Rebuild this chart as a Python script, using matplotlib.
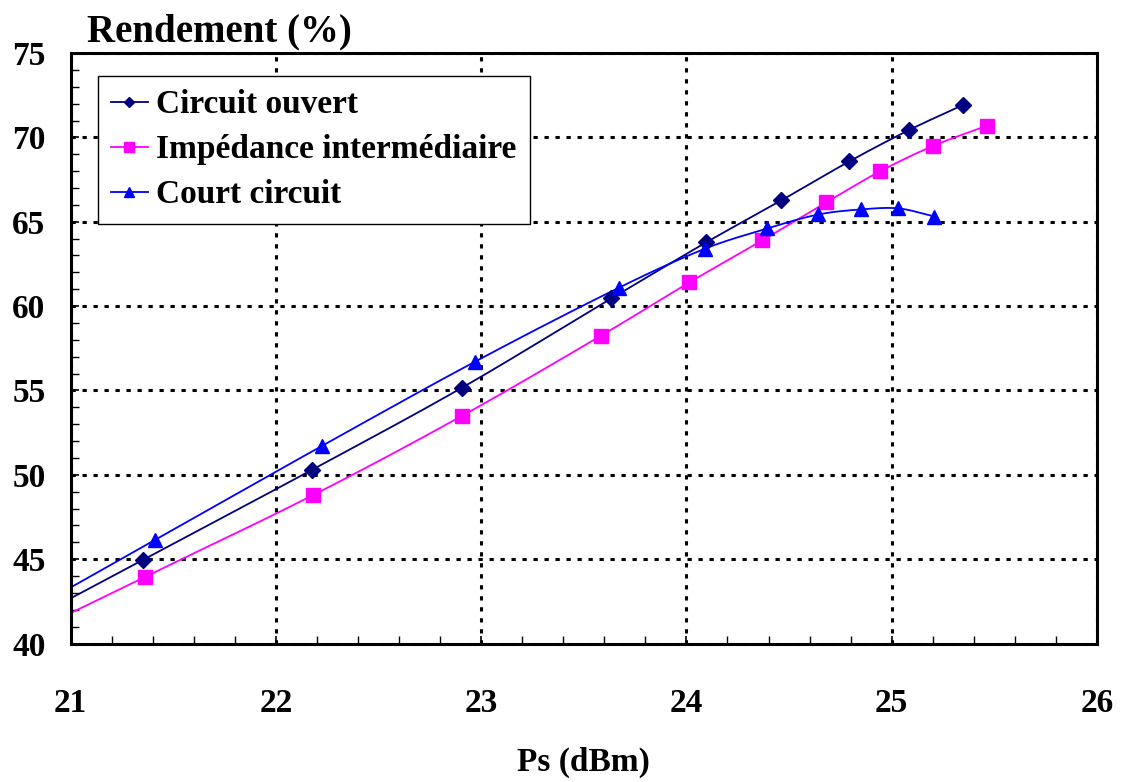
import numpy as np
import matplotlib
matplotlib.use("Agg")
import matplotlib.pyplot as plt
from matplotlib.ticker import MultipleLocator

plt.rcParams['font.family'] = ['Liberation Serif', 'DejaVu Serif']
plt.rcParams['font.weight'] = 'bold'

# Output power (dBm) and efficiency (%) for the three load terminations
ps_co = [21.353, 22.177, 22.908, 23.634, 24.097, 24.463, 24.794, 25.082, 25.345]
eff_co = [44.96, 50.30, 55.17, 60.45, 63.78, 66.27, 68.58, 70.42, 71.91]

ps_zi = [21.363, 22.182, 22.908, 23.585, 24.014, 24.370, 24.682, 24.945, 25.203, 25.466]
eff_zi = [43.95, 48.80, 53.50, 58.25, 61.40, 63.90, 66.15, 68.00, 69.50, 70.70]

ps_cc = [21.412, 22.226, 22.971, 23.673, 24.092, 24.394, 24.643, 24.852, 25.033, 25.208]
eff_cc = [46.14, 51.72, 56.71, 61.10, 63.41, 64.60, 65.43, 65.73, 65.79, 65.31]

series = [
    ("Circuit ouvert", ps_co, eff_co, "#000080", "D", 8.0),
    ("Impédance intermédiaire", ps_zi, eff_zi, "#FF00FF", "s", 10.5),
    ("Court circuit", ps_cc, eff_cc, "#0000FF", "^", 10.5),
]


def smooth_curve(xs, ys, x_start, n=40):
    """Cubic Hermite curve through the points, with a straight lead-in
    from x_start following the slope of the first segment."""
    xs = np.asarray(xs, float)
    ys = np.asarray(ys, float)
    k = len(xs)
    m = np.empty(k)
    m[0] = (ys[1] - ys[0]) / (xs[1] - xs[0])
    m[-1] = (ys[-1] - ys[-2]) / (xs[-1] - xs[-2])
    m[1:-1] = (ys[2:] - ys[:-2]) / (xs[2:] - xs[:-2])
    px = [x_start, xs[0]]
    py = [ys[0] + m[0] * (x_start - xs[0]), ys[0]]
    for i in range(k - 1):
        h = xs[i + 1] - xs[i]
        t = np.linspace(0, 1, n)[1:]
        h00 = 2 * t**3 - 3 * t**2 + 1
        h10 = t**3 - 2 * t**2 + t
        h01 = -2 * t**3 + 3 * t**2
        h11 = t**3 - t**2
        px.extend(xs[i] + t * h)
        py.extend(h00 * ys[i] + h10 * h * m[i] + h01 * ys[i + 1] + h11 * h * m[i + 1])
    return np.array(px), np.array(py)


fig = plt.figure(figsize=(11.21, 7.82), dpi=100)
ax = fig.add_axes([0.0629, 0.1771, 0.9157, 0.7551])

x_min, x_max = 21, 26
y_min, y_max = 40, 75

handles = []
for label, xs, ys, color, marker, ms in series:
    cx, cy = smooth_curve(xs, ys, x_min)
    ax.plot(cx, cy, color=color, lw=1.3, zorder=3)
    ax.plot(xs, ys, linestyle='none', marker=marker, ms=ms, color=color,
            markeredgecolor=color, zorder=4)
    h, = ax.plot([], [], color=color, lw=1.3, marker=marker, ms=ms * 0.7,
                 markeredgecolor=color, label=label)
    handles.append(h)

ax.set_xlim(x_min, x_max)
ax.set_ylim(y_min, y_max)
ax.xaxis.set_major_locator(MultipleLocator(1))
ax.xaxis.set_minor_locator(MultipleLocator(0.2))
ax.yaxis.set_major_locator(MultipleLocator(5))
ax.yaxis.set_minor_locator(MultipleLocator(1))

ax.grid(which='major', color='black', lw=2.2, linestyle=(0, (1.4, 2.2)), zorder=1)

for side in ['left', 'bottom', 'right', 'top']:
    ax.spines[side].set_linewidth(2.2)
    ax.spines[side].set_zorder(5)

ax.tick_params(axis='both', which='both', direction='in', top=False, right=False)
ax.tick_params(which='major', length=6, width=1.2)
ax.tick_params(which='minor', length=6, width=1.0)
ax.tick_params(axis='x', which='major', pad=32, labelsize=24)
ax.tick_params(axis='y', which='major', pad=18, labelsize=24)
for t in ax.get_xticklabels() + ax.get_yticklabels():
    t.set_fontweight('bold')

ax.set_xlabel("Ps (dBm)", fontsize=24, fontweight='bold', labelpad=20)
fig.text(0.0776, 0.947, "Rendement (%)", fontsize=28, fontweight='bold',
         ha='left', va='baseline')

leg = ax.legend(handles=handles, loc='upper left',
                bbox_to_anchor=(0.0263, 0.961), borderaxespad=0,
                fontsize=24, handlelength=1.1, handletextpad=0.25,
                labelspacing=0.42, borderpad=0.4, fancybox=False,
                framealpha=1, edgecolor='black')
leg.get_frame().set_linewidth(1.0)
leg.set_zorder(6)
for t in leg.get_texts():
    t.set_fontweight('bold')

fig.savefig("out.png", dpi=100)
